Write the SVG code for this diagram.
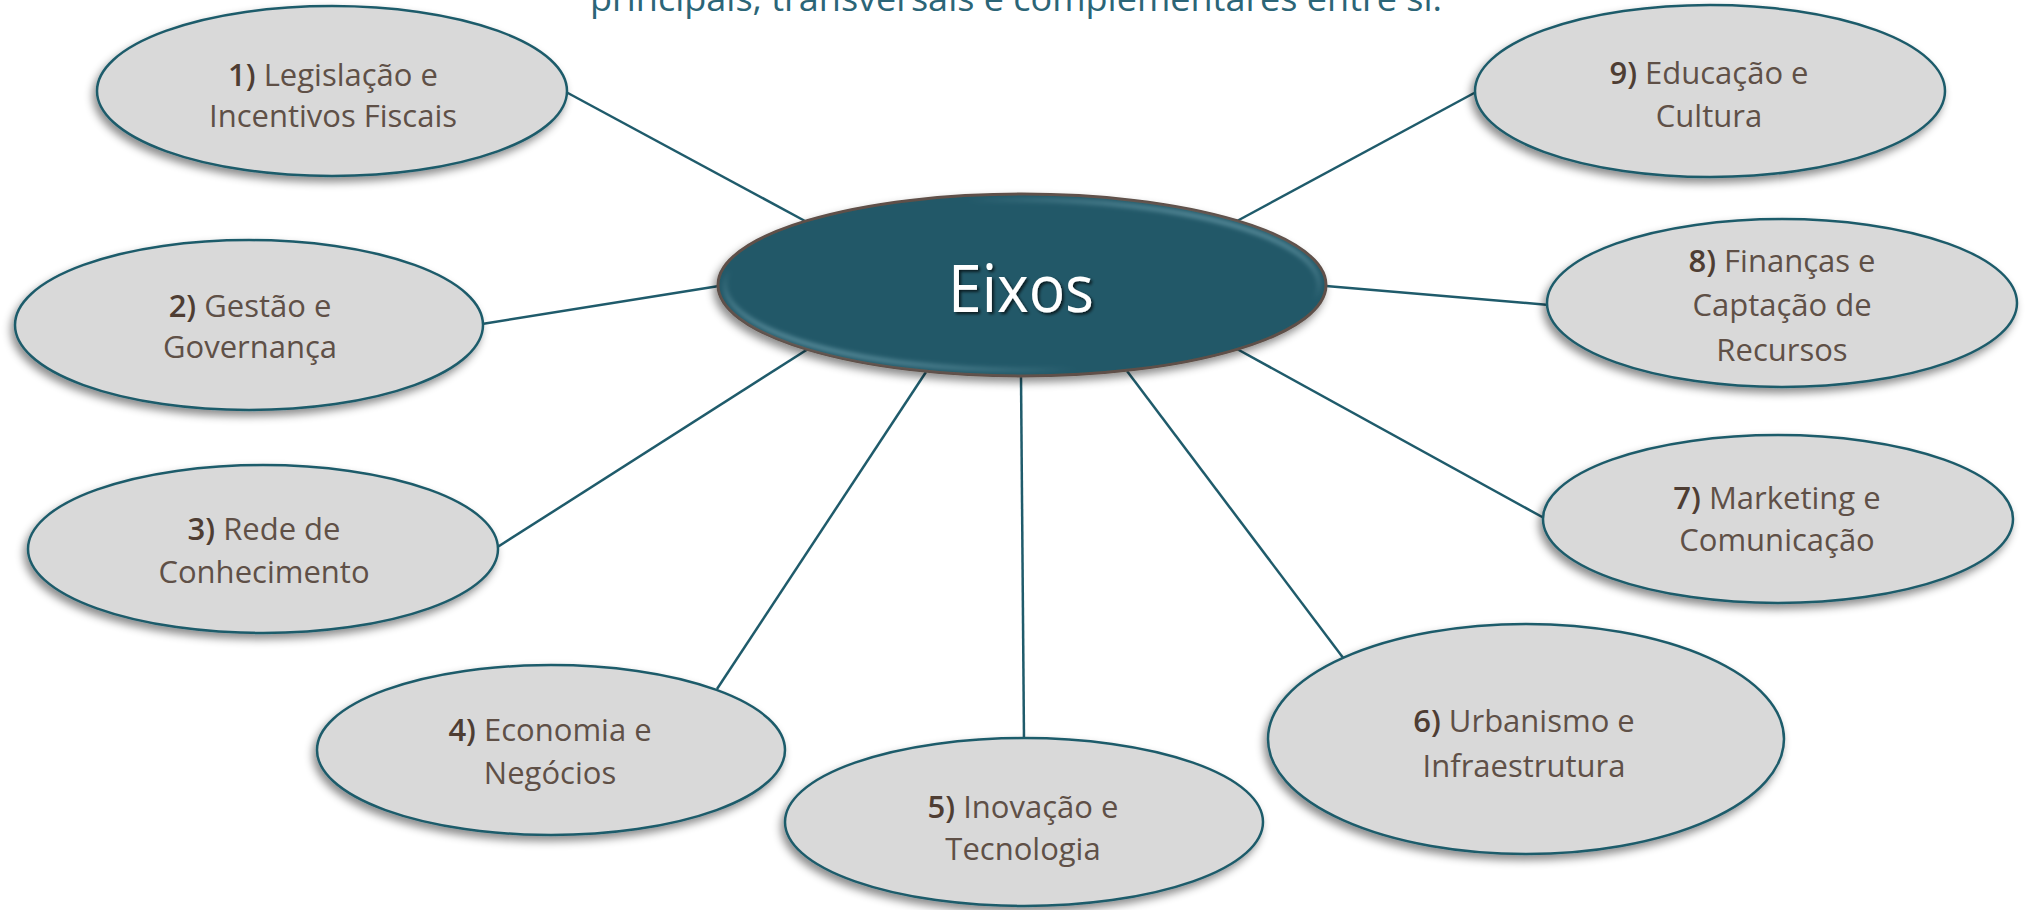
<svg xmlns="http://www.w3.org/2000/svg" width="2027" height="910" viewBox="0 0 2027 910">
<defs>
<style>
.node{fill:#D9D9D9;stroke:#1F5B6B;stroke-width:2.5;filter:url(#sh)}
.lbl{font-family:"Open Sans","Liberation Sans",sans-serif;font-size:31px;fill:#5F5047;text-anchor:middle}
.num{font-weight:600;fill:#4E3D33}
.conn{stroke:#1F5B6B;stroke-width:2.5;fill:none}
</style>
<filter id="sh" x="-20%" y="-30%" width="140%" height="160%">
<feDropShadow dx="-3" dy="5" stdDeviation="4" flood-color="#000" flood-opacity="0.45"/>
</filter>
<filter id="tsh" x="-20%" y="-30%" width="140%" height="160%">
<feDropShadow dx="2" dy="2" stdDeviation="1.5" flood-color="#000" flood-opacity="0.7"/>
</filter>
<filter id="blur"><feGaussianBlur stdDeviation="2"/></filter>
<linearGradient id="bevel" x1="1" y1="0" x2="0" y2="1">
<stop offset="0" stop-color="#8CBDCB" stop-opacity="0.9"/>
<stop offset="0.3" stop-color="#8CBDCB" stop-opacity="0"/>
<stop offset="0.7" stop-color="#8CBDCB" stop-opacity="0"/>
<stop offset="1" stop-color="#8CBDCB" stop-opacity="0.9"/>
</linearGradient>
</defs>
<rect width="2027" height="910" fill="#FFFFFF"/>
<text x="1016" y="11" font-family="'Open Sans','Liberation Sans',sans-serif" font-size="34" fill="#2B6577" text-anchor="middle" textLength="852" lengthAdjust="spacingAndGlyphs">principais, transversais e complementares entre si.</text>
<g id="connectors">
<line class="conn" x1="566" y1="92" x2="805" y2="221"/>
<line class="conn" x1="482" y1="324" x2="719" y2="286"/>
<line class="conn" x1="496" y1="548" x2="808" y2="349"/>
<line class="conn" x1="717" y1="689" x2="926" y2="372"/>
<line class="conn" x1="1021" y1="376" x2="1024" y2="740"/>
<line class="conn" x1="1127" y1="371" x2="1344" y2="659"/>
<line class="conn" x1="1237" y1="349" x2="1544" y2="518"/>
<line class="conn" x1="1326" y1="286" x2="1549" y2="305"/>
<line class="conn" x1="1237" y1="221" x2="1476" y2="92"/>
</g>
<g id="center">
<ellipse cx="1022" cy="285" rx="304" ry="91" fill="#215968" stroke="#5E5048" stroke-width="3" filter="url(#sh)"/>
<ellipse cx="1022" cy="285" rx="297" ry="85" fill="none" stroke="url(#bevel)" stroke-width="5" filter="url(#blur)"/>
<text x="1021" y="312" font-family="'Open Sans','Liberation Sans',sans-serif" font-size="66" fill="#FFFFFF" text-anchor="middle" textLength="146" lengthAdjust="spacingAndGlyphs" filter="url(#tsh)">Eixos</text>
</g>
<g id="n1">
<ellipse class="node" cx="332" cy="91" rx="235" ry="85"/>
<text class="lbl" x="333" y="86"><tspan class="num">1)</tspan> Legislação e</text>
<text class="lbl" x="333" y="127">Incentivos Fiscais</text>
</g>
<g id="n2">
<ellipse class="node" cx="249" cy="325" rx="234" ry="85"/>
<text class="lbl" x="250" y="317"><tspan class="num">2)</tspan> Gestão e</text>
<text class="lbl" x="250" y="358">Governança</text>
</g>
<g id="n3">
<ellipse class="node" cx="263" cy="549" rx="235" ry="84"/>
<text class="lbl" x="264" y="540"><tspan class="num">3)</tspan> Rede de</text>
<text class="lbl" x="264" y="583">Conhecimento</text>
</g>
<g id="n4">
<ellipse class="node" cx="551" cy="750" rx="234" ry="85"/>
<text class="lbl" x="550" y="741"><tspan class="num">4)</tspan> Economia e</text>
<text class="lbl" x="550" y="784">Negócios</text>
</g>
<g id="n5">
<ellipse class="node" cx="1024" cy="822" rx="239" ry="84"/>
<text class="lbl" x="1023" y="818"><tspan class="num">5)</tspan> Inovação e</text>
<text class="lbl" x="1023" y="860">Tecnologia</text>
</g>
<g id="n6">
<ellipse class="node" cx="1526" cy="739" rx="258" ry="115"/>
<text class="lbl" x="1524" y="732" font-size="33"><tspan class="num">6)</tspan> Urbanismo e</text>
<text class="lbl" x="1524" y="777" font-size="33">Infraestrutura</text>
</g>
<g id="n7">
<ellipse class="node" cx="1778" cy="519" rx="235" ry="84"/>
<text class="lbl" x="1777" y="509"><tspan class="num">7)</tspan> Marketing e</text>
<text class="lbl" x="1777" y="551">Comunicação</text>
</g>
<g id="n8">
<ellipse class="node" cx="1782" cy="303" rx="235" ry="84"/>
<text class="lbl" x="1782" y="272"><tspan class="num">8)</tspan> Finanças e</text>
<text class="lbl" x="1782" y="316">Captação de</text>
<text class="lbl" x="1782" y="361">Recursos</text>
</g>
<g id="n9">
<ellipse class="node" cx="1710" cy="91" rx="235" ry="86"/>
<text class="lbl" x="1709" y="84"><tspan class="num">9)</tspan> Educação e</text>
<text class="lbl" x="1709" y="127">Cultura</text>
</g>
</svg>
